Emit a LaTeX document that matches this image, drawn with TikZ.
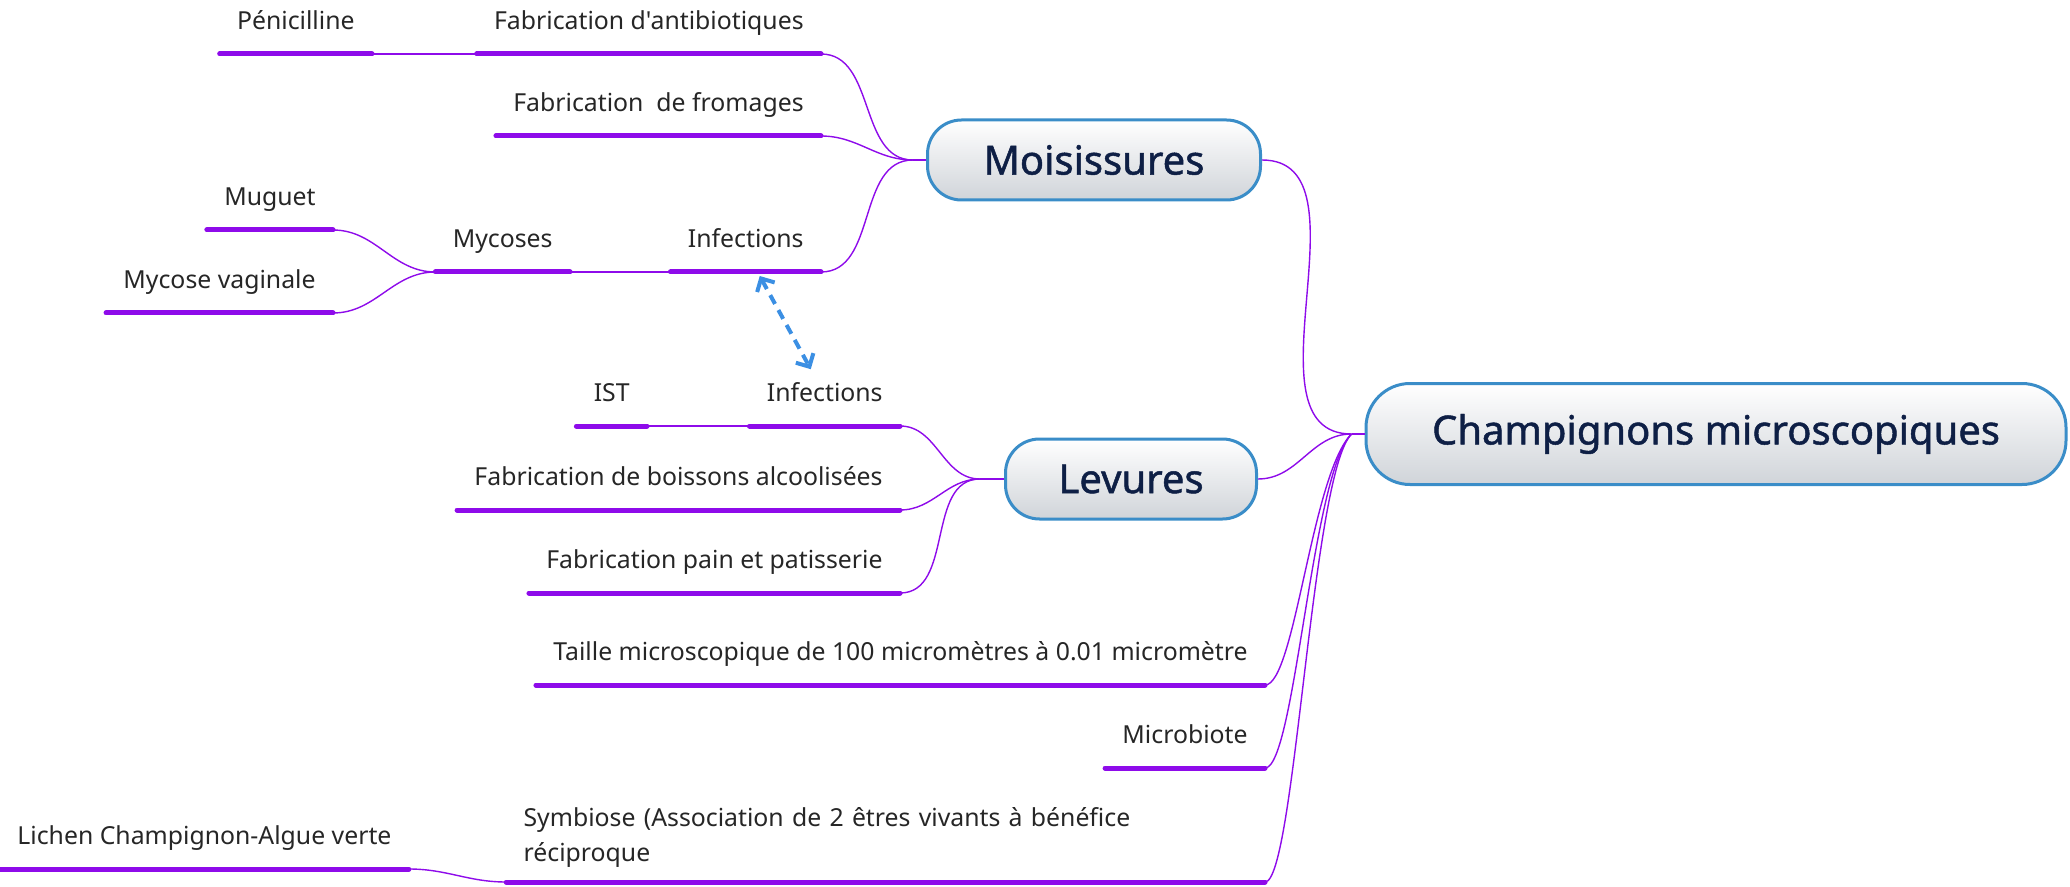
\documentclass[tikz,border=0pt]{standalone}
\usepackage{fontspec}
\setmainfont{Noto Sans}[Ligatures=TeXOff]
\newfontfamily\themefont{Noto Sans}[FakeBold=1.2]
\usetikzlibrary{arrows.meta}

\definecolor{violetxm}{HTML}{8E0BEA}
\definecolor{bleucadre}{HTML}{3A8DC8}
\definecolor{marine}{HTML}{0E1F45}
\definecolor{grisfond}{HTML}{D0D4D9}
\definecolor{bleufleche}{HTML}{3B8FE3}

\tikzset{
  theme/.style={draw=bleucadre, line width=1.5pt, rounded corners=17pt,
    top color=white, bottom color=grisfond, text=marine,
    font=\themefont\fontsize{20}{24}\selectfont, minimum height=40pt},
  sujet/.style={font=\fontsize{12.4}{15}\selectfont, text=black!85,
    inner xsep=8.5pt, inner ysep=9pt, text height=9pt, text depth=3pt},
  sujetlong/.style={font=\fontsize{12.4}{17.5}\selectfont, text=black!85,
    inner xsep=8.5pt, inner ysep=7pt, text width=362pt, align=left},
  souligne/.style={violetxm, line width=2.5pt, line cap=round},
  branche/.style={violetxm, line width=0.7pt},
  lien/.style={bleufleche, line width=2pt, dash pattern=on 5pt off 3.5pt,
    {Straight Barb[length=5pt,width=10pt]}-{Straight Barb[length=5pt,width=10pt]}}
}

\begin{document}
\begin{tikzpicture}[x=0.5pt, y=-0.5pt]  % 1 个单位 = 原图的 1 像素, y 向下

  % 固定画布大小
  \useasboundingbox (0,0) rectangle (2070,887);

  % 中心主题和两个分支主题
  \node[theme, minimum width=350pt, minimum height=50.5pt, rounded corners=22pt]
    (champ) at (1716,434) {Champignons microscopiques};
  \node[theme, minimum width=166.5pt] (moisissures) at (1094,160) {Moisissures};
  \node[theme, minimum width=125.5pt] (levures) at (1131,479) {Levures};

  % 连线汇合的点, 在主题左边一点点
  \coordinate (champ-j) at ([xshift=-6.5pt]champ.west);
  \coordinate (moisi-j) at ([xshift=-6.5pt]moisissures.west);
  \coordinate (levures-j) at ([xshift=-12pt]levures.west);

  % Moisissures 的子主题, 锚点在下划线右端
  \node[sujet, anchor=south east] (antibio) at (821,54) {Fabrication d'antibiotiques};
  \node[sujet, anchor=south east] (penicilline) at (372,54) {Pénicilline};
  \node[sujet, anchor=south east] (fromages) at (821,136) {Fabrication~ de fromages};
  \node[sujet, anchor=south east] (infectM) at (821,272) {Infections};
  \node[sujet, anchor=south east] (mycoses) at (570,272) {Mycoses};
  \node[sujet, anchor=south east] (muguet) at (333,230) {Muguet};
  \node[sujet, anchor=south east] (vaginale) at (333,313) {Mycose vaginale};

  % Levures 的子主题
  \node[sujet, anchor=south east] (infectL) at (900,426) {Infections};
  \node[sujet, anchor=south east] (ist) at (647,426) {IST};
  \node[sujet, anchor=south east] (boissons) at (900,510) {Fabrication de boissons alcoolisées};
  \node[sujet, anchor=south east] (pain) at (900,593) {Fabrication pain et patisserie};

  % 中心主题直接挂的子主题
  \node[sujet, anchor=south east] (taille) at (1265,685)
    {Taille microscopique de 100 micromètres à 0.01 micromètre};
  \node[sujet, anchor=south east] (microbiote) at (1265,768) {Microbiote};
  \node[sujetlong, anchor=south east] (symbiose) at (1265,882)
    {Symbiose (Association de 2 êtres vivants à bénéfice\\réciproque};
  \node[sujet, anchor=south west] (lichen) at (0,869) {Lichen Champignon-Algue verte};

  % 细的连线, out=180 in=0 就是水平出水平进
  \draw[branche] (champ.west) -- (champ-j);
  \draw[branche] (champ-j) to[out=180,in=0] (moisissures.east);
  \draw[branche] (champ-j) to[out=180,in=0] (levures.east);
  % 往下的三条: 先陡直往下, 最后弯进下划线
  \foreach \n in {taille,microbiote,symbiose}
    \draw[branche] (champ-j) .. controls +(-40,40) and +(30,0) .. (\n.south east);

  \draw[branche] (moisissures.west) -- (moisi-j);
  \foreach \n in {antibio,fromages,infectM}
    \draw[branche] (moisi-j) to[out=180,in=0] (\n.south east);
  \draw[branche] (antibio.south west) -- (penicilline.south east);
  \draw[branche] (infectM.south west) -- (mycoses.south east);
  \foreach \n in {muguet,vaginale}
    \draw[branche] (mycoses.south west) to[out=180,in=0] (\n.south east);

  \draw[branche] (levures.west) -- (levures-j);
  \foreach \n in {infectL,boissons,pain}
    \draw[branche] (levures-j) to[out=180,in=0] (\n.south east);
  \draw[branche] (infectL.south west) -- (ist.south east);

  \draw[branche] (symbiose.south west) to[out=180,in=0] (lichen.south east);

  % 粗的下划线
  \foreach \n in {antibio,penicilline,fromages,infectM,mycoses,muguet,vaginale,infectL,ist,boissons,pain,taille,microbiote,symbiose,lichen}
    \draw[souligne] (\n.south west) -- (\n.south east);

  % 蓝色虚线, 两头都有箭头
  \draw[lien] ([xshift=7pt,yshift=-2pt]infectM.south) -- ([xshift=-7pt,yshift=-2pt]infectL.north);

\end{tikzpicture}
\end{document}
